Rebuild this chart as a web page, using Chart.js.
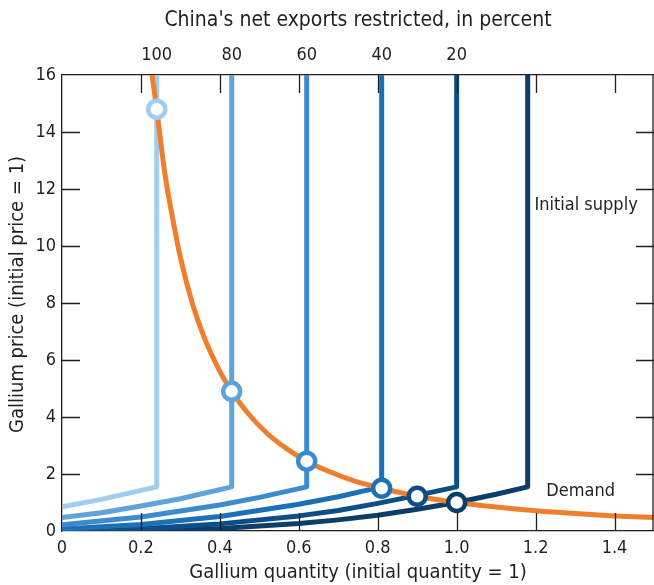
<!DOCTYPE html>
<html>
<head>
<meta charset="utf-8">
<script src="https://cdn.jsdelivr.net/npm/chart.js@4.4.1/dist/chart.umd.min.js"></script>
<style>
  html, body { margin: 0; padding: 0; background: #fff; overflow: hidden; }
  #wrap { width: 654px; height: 585px; position: relative; }
</style>
</head>
<body>
<div id="wrap"><canvas id="chart"></canvas></div>
<script>
const FONT = "'DejaVu Sans Condensed', 'Liberation Sans Narrow', sans-serif"
const INK = "#231f20"

// demand curve
const demandX = [0.228, 0.24, 0.26, 0.28, 0.30, 0.33, 0.36, 0.40, 0.43, 0.47, 0.52, 0.57, 0.62, 0.68, 0.74, 0.81, 0.9, 1.0, 1.1, 1.2, 1.3, 1.4, 1.5]
const demandY = [16, 14.8, 12.6, 11.0, 9.6, 8.0, 6.8, 5.6, 4.9, 4.15, 3.42, 2.88, 2.45, 2.07, 1.76, 1.5, 1.22, 1.0, 0.84, 0.71, 0.61, 0.53, 0.47]

// supply curves, by percent of China's net exports restricted
const supplyNames = ["100", "80", "60", "40", "20", "Initial"]
const supplyX = [
  [0, 0.1, 0.24, 0.24],
  [0, 0.1, 0.2, 0.3, 0.43, 0.43],
  [0, 0.2, 0.4, 0.5, 0.62, 0.62],
  [0, 0.2, 0.4, 0.6, 0.7, 0.81, 0.81],
  [0, 0.2, 0.4, 0.6, 0.7, 0.8, 0.9, 1.0, 1.0],
  [0, 0.2, 0.4, 0.6, 0.7, 0.8, 0.9, 1.0, 1.1, 1.18, 1.18]
]
const supplyY = [
  [0.85, 1.11, 1.55, 16],
  [0.47, 0.64, 0.88, 1.13, 1.55, 16],
  [0.22, 0.49, 0.91, 1.18, 1.55, 16],
  [0.07, 0.23, 0.51, 0.94, 1.2, 1.55, 16],
  [0.01, 0.08, 0.25, 0.53, 0.72, 0.97, 1.25, 1.55, 16],
  [0.01, 0.02, 0.09, 0.26, 0.39, 0.55, 0.76, 1.0, 1.29, 1.55, 16]
]
const supplyColors = ["#a2cdee", "#5ea4da", "#3d8bcf", "#1a71b8", "#0e4e86", "#0c3e69"]

// equilibrium points
const eqX = [0.24, 0.43, 0.62, 0.81, 0.9, 1.0]
const eqY = [14.8, 4.9, 2.45, 1.5, 1.22, 1.0]

// top axis
const topTickPos = [0.24, 0.43, 0.62, 0.81, 1.0]
const topTickLabels = ["100", "80", "60", "40", "20"]

const xTicks = [0, 0.2, 0.4, 0.6, 0.8, 1.0, 1.2, 1.4]
const xTickLabels = ["0", "0.2", "0.4", "0.6", "0.8", "1.0", "1.2", "1.4"]

function pts(xs, ys){
  return xs.map((x, i) => ({x: x, y: ys[i]}))
}

let datasets = []

supplyNames.forEach((name, i) => {
  datasets.push({
    label: name,
    data: pts(supplyX[i], supplyY[i]),
    borderColor: supplyColors[i],
    borderWidth: 5,
    borderJoinStyle: "round",
    pointRadius: 0,
    tension: 0,
    order: 10 + i
  })
})

datasets.push({
  label: "Demand",
  data: pts(demandX, demandY),
  borderColor: "#ef7f2f",
  borderWidth: 5,
  pointRadius: 0,
  cubicInterpolationMode: "monotone",
  order: 5
})

eqX.forEach((x, i) => {
  datasets.push({
    label: "eq" + i,
    data: [{x: x, y: eqY[i]}],
    showLine: false,
    pointRadius: 8.5,
    pointBorderWidth: 4.5,
    pointBackgroundColor: "#fff",
    pointBorderColor: supplyColors[i],
    order: 1
  })
})

// inward tick marks, right border and labels
const extras = {
  id: "extras",
  afterDatasetsDraw(chart){
    let ctx = chart.ctx
    let a = chart.chartArea
    let xs = chart.scales.x
    let ys = chart.scales.y
    let len = 18
    ctx.save()
    ctx.strokeStyle = INK
    ctx.lineWidth = 1.3
    ctx.beginPath()
    for (let v = 0.2; v < 1.45; v += 0.2){
      let px = Math.round(xs.getPixelForValue(v)) + 0.5
      ctx.moveTo(px, a.bottom); ctx.lineTo(px, a.bottom - len)
      ctx.moveTo(px, a.top); ctx.lineTo(px, a.top + len)
    }
    for (let v = 2; v < 16; v += 2){
      let py = Math.round(ys.getPixelForValue(v)) + 0.5
      ctx.moveTo(a.left, py); ctx.lineTo(a.left + len, py)
      ctx.moveTo(a.right, py); ctx.lineTo(a.right - len, py)
    }
    ctx.moveTo(a.right - 1, a.top); ctx.lineTo(a.right - 1, a.bottom)
    ctx.stroke()

    ctx.fillStyle = INK
    ctx.font = "18px " + FONT
    ctx.textAlign = "left"
    ctx.textBaseline = "middle"
    ctx.fillText("Initial supply", xs.getPixelForValue(1.197), ys.getPixelForValue(11.44))
    ctx.fillText("Demand", xs.getPixelForValue(1.227), ys.getPixelForValue(1.4))

    // y axis title
    ctx.save()
    ctx.translate(18, ys.getPixelForValue(8.3))
    ctx.rotate(-Math.PI / 2)
    ctx.textAlign = "center"
    ctx.font = "20px " + FONT
    ctx.fillText("Gallium price (initial price = 1)", 0, 0)
    ctx.restore()
    ctx.restore()
  }
}

new Chart(document.getElementById("chart"), {
  type: "line",
  data: { datasets: datasets },
  plugins: [extras],
  options: {
    responsive: true,
    maintainAspectRatio: false,
    animation: false,
    layout: { padding: 0, autoPadding: false },
    plugins: { legend: { display: false }, tooltip: { enabled: false } },
    scales: {
      x: {
        type: "linear",
        position: "bottom",
        min: 0, max: 1.5,
        afterBuildTicks: (s) => { s.ticks = xTicks.map(v => ({value: v})) },
        afterFit: (s) => { s.height = 54; s.paddingLeft = 0; s.paddingRight = 0 },
        grid: { drawOnChartArea: false, drawTicks: false },
        border: { display: true, color: INK, width: 1.3 },
        ticks: {
          padding: 7,
          autoSkip: false,
          color: INK,
          font: { size: 18, family: FONT },
          maxRotation: 0,
          callback: (v, i) => xTickLabels[i]
        },
        title: {
          display: true,
          text: "Gallium quantity (initial quantity = 1)",
          color: INK,
          font: { size: 20, family: FONT },
          padding: { top: 2, bottom: 0 }
        }
      },
      x2: {
        type: "linear",
        position: "top",
        min: 0, max: 1.5,
        afterBuildTicks: (s) => { s.ticks = topTickPos.map(v => ({value: v})) },
        afterFit: (s) => { s.height = 75; s.paddingLeft = 0; s.paddingRight = 0 },
        grid: { drawOnChartArea: false, drawTicks: false },
        border: { display: true, color: INK, width: 1.3 },
        ticks: {
          padding: 9,
          autoSkip: false,
          color: INK,
          font: { size: 18, family: FONT },
          maxRotation: 0,
          callback: (v, i) => topTickLabels[i]
        },
        title: {
          display: true,
          text: "China's net exports restricted, in percent",
          color: INK,
          font: { size: 21, family: FONT },
          padding: { top: 8, bottom: 8 }
        }
      },
      y: {
        type: "linear",
        min: 0, max: 16,
        afterFit: (s) => { s.width = 62 },
        grid: { drawOnChartArea: false, drawTicks: false },
        border: { display: true, color: INK, width: 1.3 },
        ticks: {
          stepSize: 2,
          padding: 6,
          color: INK,
          font: { size: 18, family: FONT }
        },
        title: { display: false }
      }
    }
  }
})
</script>
</body>
</html>
